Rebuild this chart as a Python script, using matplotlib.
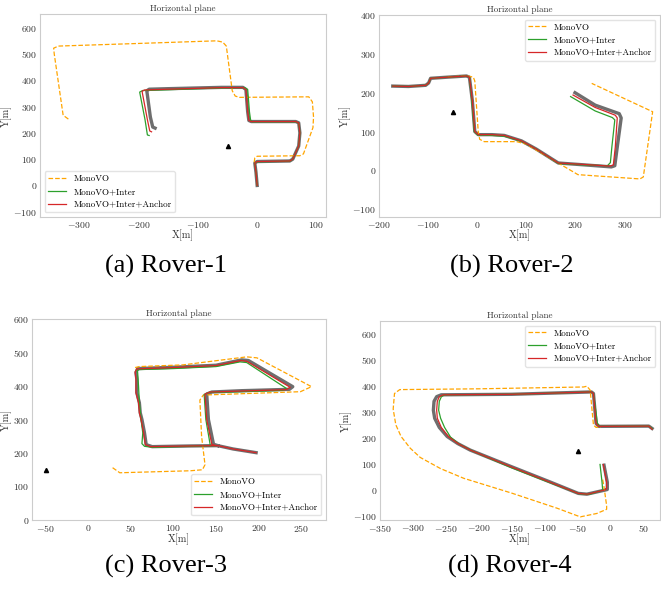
import matplotlib
matplotlib.use('Agg')
import matplotlib.pyplot as plt

plt.rcParams['font.family'] = 'cmr10'
plt.rcParams['mathtext.fontset'] = 'cm'
plt.rcParams['axes.formatter.use_mathtext'] = True
plt.rcParams['axes.unicode_minus'] = True

anchor_x = [-50]
anchor_y = [150]

# Rover-1
gt1_x = [0, -2, -4, 0, 55, 60, 70, 72, 70, 65, -10, -14, -16, -19, -24, -60, -150, -182, -186, -180, -176, -172]
gt1_y = [0, 50, 85, 91, 93, 100, 150, 200, 238, 243, 243, 247, 280, 365, 373, 373, 368, 366, 360, 260, 222, 218]
red1_x = [0, -2, -4, 0, 55, 60, 70, 72, 70, 65, -10, -14, -16, -19, -24, -60, -150, -190, -194, -185, -181, -178]
red1_y = [0, 50, 85, 91, 93, 100, 150, 200, 238, 243, 243, 247, 280, 365, 372, 372, 366, 363, 358, 250, 207, 204]
green1_x = [0, -2, -4, 0, 55, 60, 70, 72, 70, 65, -8, -11, -13, -16, -21, -60, -150, -193, -198, -189, -185, -182]
green1_y = [0, 50, 85, 90, 92, 100, 150, 200, 237, 242, 242, 247, 280, 365, 372, 371, 364, 361, 355, 250, 192, 190]
mono1_x = [-5, -4, 0, 72, 78, 94, 95, 93, 87, -30, -37, -42, -52, -58, -68, -200, -335, -343, -342, -327, -318]
mono1_y = [88, 105, 111, 113, 120, 220, 260, 318, 337, 335, 340, 360, 530, 545, 550, 540, 530, 522, 500, 267, 252]

# Rover-2
gt2_x = [-172, -140, -105, -99, -95, -60, -22, -16, -10, -5, 2, 30, 55, 90, 120, 165, 220, 273, 280, 285, 293, 289, 240, 199]
gt2_y = [217, 216, 219, 225, 237, 240, 243, 240, 180, 100, 92, 92, 90, 76, 55, 19, 14, 9, 12, 60, 135, 146, 168, 200]
red2_x = [-172, -140, -105, -99, -95, -60, -22, -16, -10, -5, 2, 30, 55, 90, 120, 165, 220, 270, 277, 281, 285, 281, 240, 195]
red2_y = [217, 216, 219, 225, 237, 240, 243, 240, 180, 100, 92, 92, 90, 76, 55, 19, 15, 11, 14, 60, 135, 142, 162, 194]
green2_x = [-172, -140, -105, -99, -95, -60, -22, -16, -11, -6, 1, 30, 55, 90, 120, 165, 220, 265, 271, 274, 280, 275, 240, 190]
green2_y = [217, 216, 219, 225, 237, 240, 243, 240, 180, 100, 91, 90, 88, 75, 55, 18, 14, 12, 20, 60, 130, 136, 153, 190]
mono2_x = [-60, -20, -8, -5, 2, 5, 14, 80, 99, 205, 331, 338, 357, 233]
mono2_y = [241, 243, 240, 230, 100, 80, 74, 74, 68, -11, -22, -17, 151, 224]

# Rover-3
gt3_x = [197, 170, 152, 120, 75, 68, 66, 63, 61, 60, 57, 57, 56, 58, 100, 150, 180, 188, 240, 236, 180, 145, 139, 141, 147, 152]
gt3_y = [201, 212, 222, 221, 219, 225, 260, 300, 320, 350, 380, 420, 440, 452, 456, 462, 478, 476, 398, 390, 386, 382, 376, 300, 226, 222]
red3_x = [197, 170, 152, 120, 73, 67, 65, 62, 60, 59, 56, 56, 55, 57, 100, 150, 179, 186, 237, 232, 180, 143, 137, 139, 145, 150]
red3_y = [201, 212, 222, 221, 219, 225, 260, 300, 320, 350, 380, 420, 442, 451, 455, 461, 476, 474, 396, 389, 385, 382, 376, 300, 226, 222]
green3_x = [150, 120, 75, 66, 63, 64, 62, 60, 59, 58, 57, 60, 100, 150, 178, 186, 233, 228, 180, 142, 136, 138, 143]
green3_y = [222, 220, 217, 220, 228, 260, 300, 350, 400, 440, 446, 449, 452, 458, 472, 470, 392, 387, 383, 381, 375, 300, 226]
mono3_x = [55, 60, 111, 186, 198, 262, 249, 135, 131, 133, 137, 134, 120, 37, 27]
mono3_y = [455, 458, 463, 487, 484, 398, 383, 373, 358, 250, 165, 150, 147, 141, 159]

# Rover-4
gt4_x = [-10, -5, -5, -8, -36, -49, -92, -152, -213, -232, -248, -260, -267, -269, -268, -264, -257, -150, -29, -26, -22, -18, 58, 63]
gt4_y = [95, 30, 2, 0, -16, -13, 31, 91, 153, 178, 205, 240, 275, 306, 340, 358, 365, 367, 376, 370, 255, 244, 245, 236]
red4_x = [-11, -6, -6, -8, -35, -49, -92, -152, -212, -231, -246, -257, -263, -264, -263, -260, -254, -150, -29, -26, -22, -18, 58, 63]
red4_y = [98, 30, 5, 1, -16, -13, 30, 90, 152, 177, 204, 240, 275, 306, 340, 358, 365, 367, 376, 370, 255, 244, 245, 233]
green4_x = [-16, -13, -12, -15, -33, -48, -92, -152, -210, -230, -243, -252, -258, -261, -260, -257, -252, -150, -29, -26, -20, -16, 58, 63]
green4_y = [98, 30, 0, -3, -17, -14, 28, 87, 150, 176, 203, 240, 275, 306, 340, 357, 365, 367, 376, 370, 255, 244, 245, 236]
mono4_x = [-12, -10, -6, -6, -21, -46, -81, -150, -223, -258, -289, -304, -318, -326, -330, -328, -320, -200, -41, -36, -31, -26, -22, -15]
mono4_y = [40, 12, -60, -74, -90, -103, -70, -12, 45, 82, 125, 160, 205, 250, 310, 370, 385, 388, 395, 398, 383, 249, 240, 242]

rovers = [
    (gt1_x, gt1_y, mono1_x, mono1_y, green1_x, green1_y, red1_x, red1_y),
    (gt2_x, gt2_y, mono2_x, mono2_y, green2_x, green2_y, red2_x, red2_y),
    (gt3_x, gt3_y, mono3_x, mono3_y, green3_x, green3_y, red3_x, red3_y),
    (gt4_x, gt4_y, mono4_x, mono4_y, green4_x, green4_y, red4_x, red4_y),
]
xlims = [(-366, 116), (-200, 372), (-66, 279), (-350, 75)]
ylims = [(-120, 652), (-120, 400), (0, 600), (-115, 648)]
xticks = [range(-300, 101, 100), range(-200, 301, 100), range(-50, 251, 50), range(-350, 51, 50)]
yticks = [range(-100, 601, 100), range(-100, 401, 100), range(0, 601, 100), range(-100, 601, 100)]
legend_locs = ['lower left', 'upper right', 'lower right', 'upper right']
captions = ['(a) Rover-1', '(b) Rover-2', '(c) Rover-3', '(d) Rover-4']

W, H = 661, 589
boxes = [(40, 14, 326, 217), (379, 15, 660, 217), (32, 319, 326, 520), (380, 321, 660, 520)]
cap_pos = [(166, 266), (512, 266), (166, 566), (510, 566)]

fig = plt.figure(figsize=(W / 100, H / 100), dpi=100)

for i, (gx, gy, mx, my, nx, ny, rx, ry) in enumerate(rovers):
    l, t, r, b = boxes[i]
    ax = fig.add_axes([l / W, 1 - b / H, (r - l) / W, (b - t) / H])
    ax.plot(gx, gy, color='#4a4a4a', lw=2.4, alpha=0.8, solid_joinstyle='round')
    ax.plot(mx, my, color='orange', lw=0.9, ls='--', label='MonoVO')
    ax.plot(nx, ny, color='tab:green', lw=0.9, label='MonoVO+Inter')
    ax.plot(rx, ry, color='tab:red', lw=0.9, label='MonoVO+Inter+Anchor')
    ax.plot(anchor_x, anchor_y, '^', color='black', markersize=3)
    ax.set_xlim(*xlims[i])
    ax.set_ylim(*ylims[i])
    ax.set_xticks(list(xticks[i]))
    ax.set_yticks(list(yticks[i]))
    ax.tick_params(length=0, labelsize=7, pad=2, colors='#333333')
    for s in ax.spines.values():
        s.set_color('#cccccc')
    ax.set_title('Horizontal plane', fontsize=6.5, pad=2, color='#333333')
    ax.set_xlabel('X[m]', fontsize=7.5, labelpad=0, color='#333333')
    ax.set_ylabel('Y[m]', fontsize=7.5, labelpad=1, color='#333333')
    ax.legend(loc=legend_locs[i], fontsize=6.5, edgecolor='#dddddd', fancybox=True)
    fig.text(cap_pos[i][0] / W, 1 - cap_pos[i][1] / H, captions[i],
             family='Liberation Serif', fontsize=19, ha='center', va='center')

fig.savefig('out.png', dpi=100)
